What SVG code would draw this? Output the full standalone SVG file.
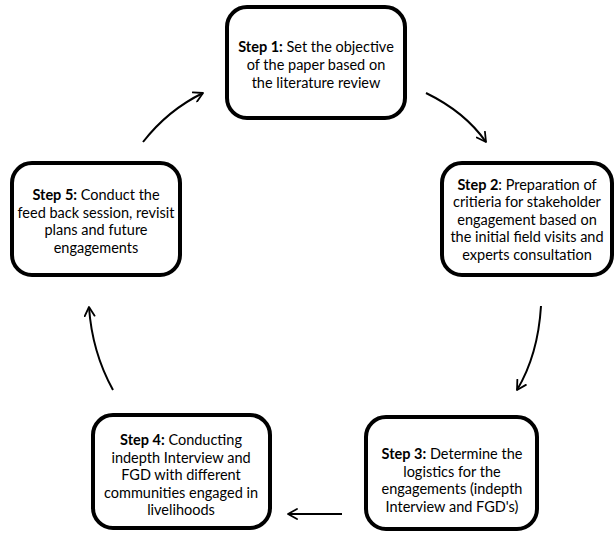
<svg xmlns="http://www.w3.org/2000/svg" width="615" height="533" viewBox="0 0 615 533">
<defs>
<marker id="ah" viewBox="0 0 12 12" refX="10" refY="6" markerWidth="12" markerHeight="12" markerUnits="userSpaceOnUse" orient="auto">
<path d="M1,1 L10,6 L1,11" fill="none" stroke="#000" stroke-width="1.8" stroke-linecap="round" stroke-linejoin="round"/>
</marker>
<style>
.box{fill:#fff;stroke:#000;stroke-width:4}
text{font-family:Lato,"Open Sans","Liberation Sans",sans-serif;font-size:14.5px;fill:#000;text-anchor:middle}
.b{font-weight:bold}
.c{fill:none;stroke:#000;stroke-width:2;marker-end:url(#ah)}
</style>
</defs>
<rect width="615" height="533" fill="#fff"/>
<g id="step1">
<rect class="box" x="227" y="7" width="178" height="111" rx="20"/>
<text x="316" y="52"><tspan class="b">Step 1:</tspan> Set the objective</text>
<text x="316" y="70">of the paper based on</text>
<text x="316" y="88">the literature review</text>
</g>
<g id="step2">
<rect class="box" x="442" y="163" width="170" height="112" rx="20"/>
<text x="527" y="190"><tspan class="b">Step 2</tspan>: Preparation of</text>
<text x="527" y="207">critieria for stakeholder</text>
<text x="527" y="225">engagement based on</text>
<text x="527" y="242">the initial field visits and</text>
<text x="527" y="260">experts consultation</text>
</g>
<g id="step3">
<rect class="box" x="366" y="417" width="171" height="112" rx="20"/>
<text x="452" y="459"><tspan class="b">Step 3:</tspan> Determine the</text>
<text x="452" y="477">logistics for the</text>
<text x="452" y="494">engagements (indepth</text>
<text x="452" y="512">Interview and FGD's)</text>
</g>
<g id="step4">
<rect class="box" x="93" y="415" width="177" height="113" rx="20"/>
<text x="181" y="445"><tspan class="b">Step 4:</tspan> Conducting</text>
<text x="181" y="463">indepth Interview and</text>
<text x="181" y="480">FGD with different</text>
<text x="181" y="498">communities engaged in</text>
<text x="181" y="515">livelihoods</text>
</g>
<g id="step5">
<rect class="box" x="12" y="163" width="168" height="112" rx="20"/>
<text x="96" y="200"><tspan class="b">Step 5:</tspan> Conduct the</text>
<text x="96" y="218">feed back session, revisit</text>
<text x="96" y="235">plans and future</text>
<text x="96" y="253">engagements</text>
</g>
<g id="connectors">
<path class="c" d="M426,93 Q465,112 486,142"/>
<path class="c" d="M541,306 Q538,355 517,390"/>
<path class="c" d="M342,514 L288,514"/>
<path class="c" d="M113,390 Q92,352 89,307"/>
<path class="c" d="M143,142 Q168,110 203,93"/>
</g>
</svg>
